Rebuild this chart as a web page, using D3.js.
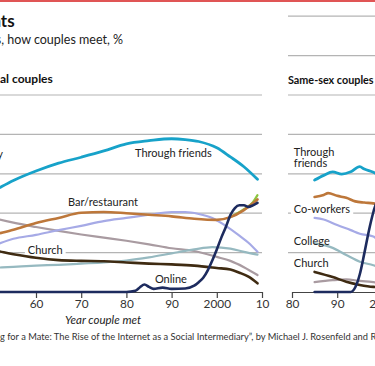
<!DOCTYPE html>
<html>
<head>
<meta charset="utf-8">
<script src="https://cdn.jsdelivr.net/npm/d3@7"></script>
<style>
  body { margin: 0; background: #fff; }
  svg { display: block; font-family: Lato, "Open Sans", sans-serif; }
</style>
</head>
<body>
<svg id="chart" width="375" height="366"></svg>
<script>
const width = 375;
const height = 366;

// Chart data (% of couples, by year met)
const yTicks = [10, 20, 30, 40, 50, 60, 70];
const leftTickYears = [1940, 1950, 1960, 1970, 1980, 1990, 2000, 2010];
const leftTickLabels = ["1940", "50", "60", "70", "80", "90", "2000", "10"];
const rightTickYears = [1980, 1990, 2000, 2010];
const rightTickLabels = ["80", "90", "2000", "10"];

// Heterosexual couples
const hetFriends = [[1940, 20.5], [1945, 22.8], [1950, 25.3], [1955, 28.3], [1960, 30.7], [1965, 32.7], [1970, 34.2], [1975, 35.8], [1980, 37.6], [1985, 38.4], [1990, 38.9], [1993, 38.7], [1996, 38.2], [2000, 36.6], [2003, 34.3], [2006, 31.8], [2009, 28.6]];
const hetBar = [[1940, 11], [1945, 12.5], [1950, 14.3], [1955, 15.8], [1960, 17.5], [1965, 18.8], [1970, 20.1], [1975, 20.3], [1980, 20], [1985, 19.6], [1990, 19.2], [1995, 18.6], [2000, 18.3], [2003, 19], [2006, 20.8], [2008, 22.5], [2009, 23.5]];
const hetFamily = [[1940, 23], [1945, 20.8], [1950, 19], [1955, 17.6], [1960, 16.5], [1965, 15.5], [1970, 14.6], [1975, 13.8], [1980, 13], [1985, 12.1], [1990, 11.1], [1995, 10.4], [2000, 8.9], [2003, 7.9], [2006, 6.3], [2009, 4.3]];
const hetCoworkers = [[1940, 8], [1945, 9.5], [1950, 11.5], [1955, 13.5], [1960, 14.5], [1965, 15.7], [1970, 16.8], [1975, 18], [1980, 18.8], [1985, 19.6], [1990, 20.3], [1993, 20.3], [1996, 19.8], [1999, 18.8], [2002, 16.8], [2005, 14.3], [2007, 12.5], [2009, 10.2]];
const hetCollege = [[1940, 5.5], [1945, 5.8], [1950, 6.1], [1955, 6.4], [1960, 6.7], [1965, 6.9], [1970, 7.2], [1975, 7.5], [1980, 8], [1985, 8.8], [1990, 9.8], [1995, 10.8], [1999, 11.4], [2003, 11], [2006, 10.2], [2009, 9.5]];
const hetChurch = [[1940, 12], [1945, 11.3], [1950, 10.7], [1955, 9.6], [1960, 8.7], [1965, 8.1], [1970, 7.9], [1975, 7.8], [1980, 7.5], [1985, 7.2], [1990, 7], [1995, 6.7], [2000, 6.1], [2003, 5.7], [2005, 4.9], [2007, 3.9], [2009, 2.2]];
const hetNeighbours = [[2003, 19], [2006, 21], [2008, 22.8], [2009, 24.6]];
const hetOnline = [[1940, 0], [1980, 0], [1982, 0.3], [1983, 1.2], [1984, 1.9], [1985, 1.3], [1986, 0.8], [1988, 1.1], [1990, 0.8], [1993, 0.9], [1995, 1.6], [1996, 2.5], [1997, 3.6], [1998, 5.5], [1999, 8], [2000, 10.8], [2001, 13.8], [2002, 16.5], [2003, 19.5], [2004, 21.3], [2005, 22], [2006, 22], [2007, 21.6], [2008, 22], [2009, 22.6]];

// Same-sex couples
const ssFriends = [[1985, 28.4], [1987, 29.6], [1989, 30.5], [1991, 29.9], [1993, 30.5], [1995, 31.8], [1996, 31.2], [1998, 30.4], [2000, 29], [2005, 25], [2009, 20]];
const ssBar = [[1985, 24.1], [1987, 24.6], [1988, 25.1], [1990, 24.4], [1992, 23.9], [1994, 23], [1996, 22.7], [1998, 22.5], [2000, 22], [2005, 20], [2009, 18]];
const ssCoworkers = [[1985, 18.8], [1987, 18.4], [1990, 17], [1993, 15.7], [1995, 14.8], [1998, 14.1], [2000, 12], [2005, 9], [2009, 7]];
const ssCollege = [[1985, 12.4], [1989, 11.2], [1992, 9.4], [1995, 7.7], [1998, 6.8], [2000, 6], [2005, 4.5], [2009, 3.5]];
const ssChurch = [[1985, 5.1], [1989, 3.8], [1992, 2.6], [1995, 1.8], [1998, 1.3], [2005, 1], [2009, 0.8]];
const ssFamily = [[1985, 2.5], [1989, 3], [1992, 3.2], [1995, 2.8], [1998, 2.5], [2005, 2], [2009, 1.5]];
const ssOnline = [[1985, 0], [1993, 0], [1994, 1.2], [1995, 4.5], [1996, 9.8], [1997, 15.5], [1998, 20.3], [1999, 24], [2000, 30], [2003, 45], [2006, 55], [2009, 61]];

const colors = {
  friends: "#17a2c9",
  bar: "#bd773a",
  family: "#a99ba1",
  coworkers: "#a6aae6",
  college: "#96b9c0",
  church: "#3f2b12",
  neighbours: "#8dc63f",
  online: "#1d2b5e",
};

const svg = d3.select("#chart");

// Scales
const y = d3.scaleLinear().domain([0, 70]).range([292, 16.2]);
const xLeft = d3.scaleLinear().domain([1940, 2010]).range([-54.4, 262]);
const xRight = d3.scaleLinear().domain([1980, 2010]).range([292, 427.6]);

// Put the visible part of a cut-off text at a given x
function alignVisible(sel, full, prefix, visX) {
  sel.text(prefix);
  const w = sel.node().getComputedTextLength();
  sel.text(full).attr("x", visX - w);
}

// Top red rule
svg.append("line")
  .attr("x1", 0).attr("x2", width)
  .attr("y1", 1).attr("y2", 1)
  .attr("stroke", "#e05555")
  .attr("stroke-width", 2);

const title = svg.append("text")
  .attr("y", 27)
  .attr("font-size", 17)
  .attr("font-weight", "bold")
  .attr("fill", "#111");
alignVisible(title, "Meeting points", "Meeting poin", 1);

const subtitle = svg.append("text")
  .attr("y", 44)
  .attr("font-size", 12.5)
  .attr("fill", "#222");
alignVisible(subtitle, "United States, how couples meet, %", "United States, ", 4);

const hetTitle = svg.append("text")
  .attr("y", 83)
  .attr("font-size", 12)
  .attr("font-weight", "bold")
  .attr("fill", "#111");
alignVisible(hetTitle, "Heterosexual couples", "Heterosexu", 0);

svg.append("text")
  .attr("x", 288)
  .attr("y", 84)
  .attr("font-size", 10.8)
  .attr("font-weight", "bold")
  .attr("fill", "#111")
  .text("Same-sex couples");

// Gridlines
const grid = svg.append("g").attr("class", "grid");
grid.selectAll("line.left")
  .data(yTicks.filter((d) => d <= 50))
  .join("line")
  .attr("class", "left")
  .attr("x1", xLeft.range()[0]).attr("x2", xLeft(2010))
  .attr("y1", (d) => y(d)).attr("y2", (d) => y(d));
grid.selectAll("line.right")
  .data(yTicks)
  .join("line")
  .attr("class", "right")
  .attr("x1", xRight(1980) - 4).attr("x2", xRight.range()[1])
  .attr("y1", (d) => y(d)).attr("y2", (d) => y(d));
grid.selectAll("line")
  .attr("stroke", "#b4b4b4")
  .attr("stroke-width", 1.2);

// Axes
function drawAxis(scale, ticks, labels) {
  const axis = d3.axisBottom(scale)
    .tickValues(ticks)
    .tickFormat((d, i) => labels[i])
    .tickSize(6)
    .tickSizeOuter(0)
    .tickPadding(2);
  const g = svg.append("g")
    .attr("transform", `translate(0, ${y(0)})`)
    .call(axis);
  g.select(".domain").attr("stroke", "#444").attr("stroke-width", 1.2);
  g.selectAll(".tick line").attr("stroke", "#444").attr("stroke-width", 1.2);
  g.selectAll(".tick text")
    .attr("font-size", 11.8)
    .attr("font-family", "Lato, sans-serif")
    .attr("fill", "#333");
  return g;
}
drawAxis(xLeft, leftTickYears, leftTickLabels);
drawAxis(xRight, rightTickYears, rightTickLabels);

// Label backgrounds (break the gridlines behind labels)
const labelBg = svg.append("g");

// Lines
function drawSeries(x, series) {
  const line = d3.line()
    .x((d) => x(d[0]))
    .y((d) => y(d[1]))
    .curve(d3.curveMonotoneX);
  const g = svg.append("g").attr("fill", "none").attr("stroke-linecap", "round");
  series.forEach((s) => {
    g.append("path")
      .datum(s.values)
      .attr("d", line)
      .attr("stroke", s.color)
      .attr("stroke-width", s.width);
  });
}

drawSeries(xLeft, [
  { values: hetFamily, color: colors.family, width: 2.2 },
  { values: hetCollege, color: colors.college, width: 2.2 },
  { values: hetCoworkers, color: colors.coworkers, width: 2.2 },
  { values: hetNeighbours, color: colors.neighbours, width: 2.2 },
  { values: hetBar, color: colors.bar, width: 2.6 },
  { values: hetFriends, color: colors.friends, width: 2.8 },
  { values: hetChurch, color: colors.church, width: 2.6 },
  { values: hetOnline, color: colors.online, width: 2.6 },
]);

drawSeries(xRight, [
  { values: ssFamily, color: colors.family, width: 2.2 },
  { values: ssCollege, color: colors.college, width: 2.2 },
  { values: ssCoworkers, color: colors.coworkers, width: 2.2 },
  { values: ssBar, color: colors.bar, width: 2.6 },
  { values: ssFriends, color: colors.friends, width: 2.8 },
  { values: ssChurch, color: colors.church, width: 2.6 },
  { values: ssOnline, color: colors.online, width: 2.6 },
]);

// Labels
const labels = [
  { text: "Family", x: xLeft, year: 1952.7, value: 34, anchor: "end" },
  { text: "Through friends", x: xLeft, year: 1981.9, value: 34.3 },
  { text: "Bar/restaurant", x: xLeft, year: 1967.1, value: 21.8 },
  { text: "Church", x: xLeft, year: 1958.2, value: 9.6, bg: true },
  { text: "Online", x: xLeft, year: 1986.3, value: 2.3 },
  { text: "Through", x: xRight, year: 1980.4, value: 34.6 },
  { text: "friends", x: xRight, year: 1980.4, value: 31.6 },
  { text: "Co-workers", x: xRight, year: 1980.4, value: 20, bg: true },
  { text: "College", x: xRight, year: 1980.4, value: 11.9 },
  { text: "Church", x: xRight, year: 1980.4, value: 6.3 },
];

const labelGroup = svg.append("g")
  .attr("font-size", 11)
  .attr("fill", "#222");

labels.forEach((l) => {
  const t = labelGroup.append("text")
    .attr("x", l.x(l.year))
    .attr("y", y(l.value))
    .attr("text-anchor", l.anchor || "start")
    .text(l.text);
  if (l.bg) {
    const b = t.node().getBBox();
    labelBg.append("rect")
      .attr("x", b.x - 3).attr("y", b.y)
      .attr("width", b.width + 6).attr("height", b.height)
      .attr("fill", "#fff");
  }
});

svg.append("text")
  .attr("x", 103)
  .attr("y", 324)
  .attr("text-anchor", "middle")
  .attr("font-size", 11.5)
  .attr("font-style", "italic")
  .attr("fill", "#222")
  .text("Year couple met");

const source = svg.append("text")
  .attr("y", 340)
  .attr("font-size", 9.3)
  .attr("fill", "#333");
alignVisible(source,
  "Source: \u201cSearching for a Mate: The Rise of the Internet as a Social Intermediary\u201d, by Michael J. Rosenfeld and Reuben J. Thomas",
  "Source: \u201cSearchin", 0);
</script>
</body>
</html>
